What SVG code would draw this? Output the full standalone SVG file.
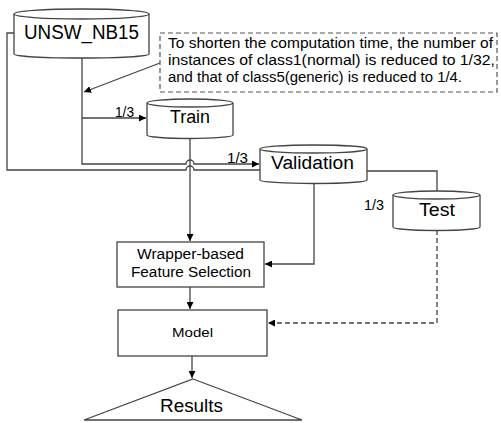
<svg xmlns="http://www.w3.org/2000/svg" width="501" height="423" viewBox="0 0 501 423">
<defs>
<marker id="arr" viewBox="0 0 10 10" refX="10" refY="5" markerWidth="7" markerHeight="7" markerUnits="userSpaceOnUse" orient="auto">
<path d="M0,0 L10,5 L0,10 z" fill="#000"/>
</marker>
<style>
.shape{fill:#fff;stroke:#444;stroke-width:1.3}
.ln{fill:none;stroke:#444;stroke-width:1.3}
.dash{fill:none;stroke:#444;stroke-width:1.3;stroke-dasharray:5,3}
text{font-family:"Liberation Sans",Arial,sans-serif;fill:#000}
</style>
</defs>
<rect width="501" height="423" fill="#fff"/>
<g id="connectors">
<path class="ln" d="M14,33 H7 V170 H186 A4,4 0 0 1 194,170 H260"/>
<path class="ln" d="M82,55 V164 H186 A4,4 0 0 1 194,164 H259" marker-end="url(#arr)"/>
<path class="ln" d="M82,118 H146" marker-end="url(#arr)"/>
<path class="ln" d="M160,63 L84,92" marker-end="url(#arr)"/>
<path class="ln" d="M190,138 V241" marker-end="url(#arr)"/>
<path class="ln" d="M314,183 V264 H265" marker-end="url(#arr)"/>
<path class="ln" d="M367,171 H437 V191"/>
<path class="dash" d="M437,230 V323 H268" marker-end="url(#arr)"/>
<path class="ln" d="M190,287 V309" marker-end="url(#arr)"/>
<path class="ln" d="M192,356 V378" marker-end="url(#arr)"/>
<text x="115" y="117" font-size="14" textLength="19" lengthAdjust="spacingAndGlyphs">1/3</text>
<text x="227" y="163" font-size="14" textLength="21" lengthAdjust="spacingAndGlyphs">1/3</text>
<text x="364" y="210" font-size="14" textLength="20" lengthAdjust="spacingAndGlyphs">1/3</text>
</g>
<g id="unsw">
<path class="shape" d="M14,14 A67.5,5 0 0 1 149,14 V54 A67.5,4 0 0 1 14,54 Z"/>
<path class="ln" d="M14,14 A67.5,5 0 0 0 149,14"/>
<text x="24" y="39" font-size="20" textLength="115" lengthAdjust="spacingAndGlyphs">UNSW_NB15</text>
</g>
<g id="note">
<rect x="160" y="33" width="337" height="59" fill="#fff" stroke="#555" stroke-width="1.2" stroke-dasharray="5,3"/>
<text x="168" y="48" font-size="14" textLength="325" lengthAdjust="spacingAndGlyphs">To shorten the computation time, the number of</text>
<text x="168" y="65" font-size="14" textLength="327" lengthAdjust="spacingAndGlyphs">instances of class1(normal) is reduced to 1/32,</text>
<text x="168" y="82" font-size="14" textLength="294" lengthAdjust="spacingAndGlyphs">and that of class5(generic) is reduced to 1/4.</text>
</g>
<g id="train">
<path class="shape" d="M147,103 A43,4 0 0 1 233,103 V135 A43,3.5 0 0 1 147,135 Z"/>
<path class="ln" d="M147,103 A43,4 0 0 0 233,103"/>
<text x="170" y="123" font-size="18" textLength="40" lengthAdjust="spacingAndGlyphs">Train</text>
</g>
<g id="validation">
<path class="shape" d="M260,149 A53.5,4 0 0 1 367,149 V180 A53.5,3.5 0 0 1 260,180 Z"/>
<path class="ln" d="M260,149 A53.5,4 0 0 0 367,149"/>
<text x="271" y="169" font-size="18" textLength="83" lengthAdjust="spacingAndGlyphs">Validation</text>
</g>
<g id="test">
<path class="shape" d="M393,195 A43.5,4 0 0 1 480,195 V227 A43.5,3.5 0 0 1 393,227 Z"/>
<path class="ln" d="M393,195 A43.5,4 0 0 0 480,195"/>
<text x="419" y="216" font-size="18" textLength="36" lengthAdjust="spacingAndGlyphs">Test</text>
</g>
<g id="wrapper">
<rect class="shape" x="117" y="242" width="147" height="45"/>
<text x="137" y="259" font-size="14" textLength="107" lengthAdjust="spacingAndGlyphs">Wrapper-based</text>
<text x="131" y="277" font-size="14" textLength="120" lengthAdjust="spacingAndGlyphs">Feature Selection</text>
</g>
<g id="model">
<rect class="shape" x="118" y="310" width="149" height="46"/>
<text x="172" y="337" font-size="13" textLength="41" lengthAdjust="spacingAndGlyphs">Model</text>
</g>
<g id="results">
<path class="shape" d="M193,379 L302,420 L84,420 Z"/>
<text x="160" y="412" font-size="18" textLength="63" lengthAdjust="spacingAndGlyphs">Results</text>
</g>
</svg>
